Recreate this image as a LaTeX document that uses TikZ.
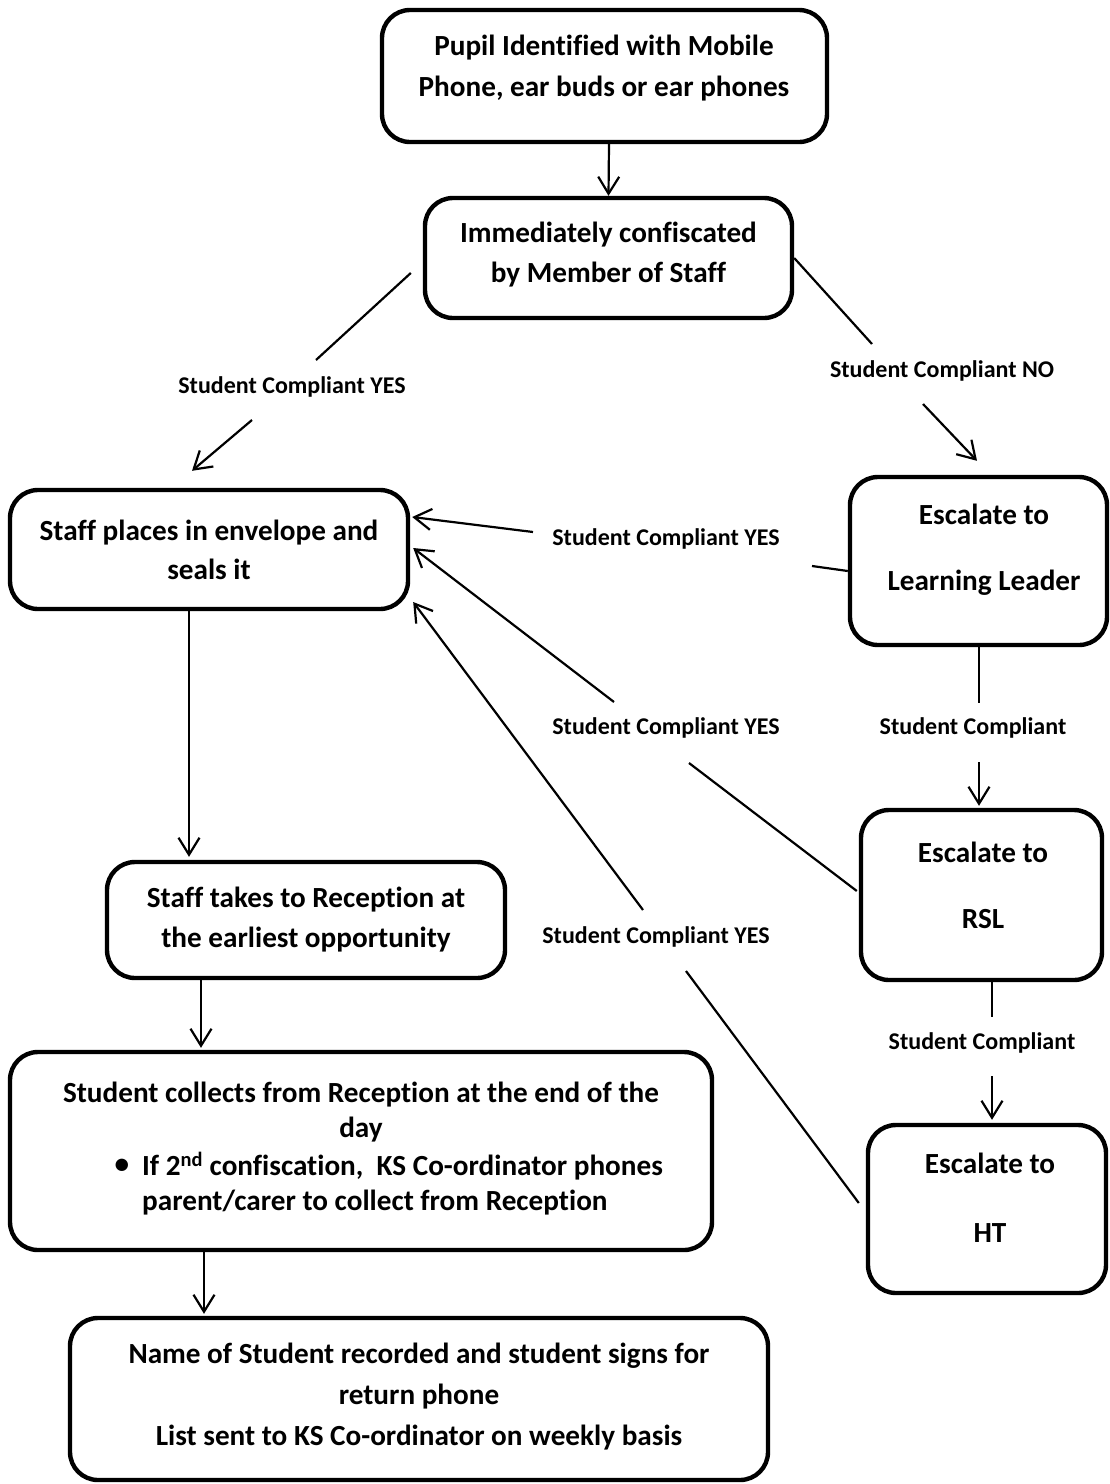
\documentclass[tikz,border=0pt]{standalone}
\usepackage{fontspec}
\setmainfont{Carlito}[Ligatures=NoCommon]
\usetikzlibrary{arrows.meta}
\begin{document}
\begin{tikzpicture}[x=1pt,y=-1pt,
  box/.style={draw, line width=4.4pt, rounded corners=28pt, inner sep=0pt},
  txt/.style={font=\fontsize{29.2}{#1}\selectfont\bfseries, align=center, inner sep=0pt},
  txt/.default=40,
  lab/.style={font=\fontsize{24}{28}\selectfont\bfseries, inner sep=0pt},
  con/.style={line width=2.2pt},
  arr/.style={line width=2.2pt, -{Straight Barb[length=17pt,width=21pt]}}]
\fill[white] (0,0) rectangle (1110,1484);
\useasboundingbox (0,0) rectangle (1110,1484);

% boxes
\node[box, minimum width=445pt, minimum height=132pt] (b1) at (604.5,76) {};
\node[box, minimum width=367pt, minimum height=120pt] (b2) at (608.5,258) {};
\node[box, minimum width=398pt, minimum height=119pt] (b3) at (209,549.5) {};
\node[box, minimum width=398pt, minimum height=116pt] (b4) at (306,920) {};
\node[box, minimum width=702pt, minimum height=198pt] (b5) at (361,1151) {};
\node[box, minimum width=698pt, minimum height=162pt] (b6) at (419,1399) {};
\node[box, minimum width=257pt, minimum height=168pt] (ll) at (978.5,561) {};
\node[box, minimum width=241pt, minimum height=170pt] (rsl) at (981.5,895) {};
\node[box, minimum width=238pt, minimum height=168pt] (ht) at (987,1209) {};

% box texts
\node[txt=41] (t1) at (604,68.5) {Pupil Identified with Mobile\\Phone, ear buds or ear phones};
\node[txt=40] (t2) at (608.5,255) {Immediately confiscated\\by Member of Staff};
\node[txt=39] (t3) at (209,549.5) {Staff places in envelope and\\seals it};
\node[txt=40] (t4) at (306,920) {Staff takes to Reception at\\the earliest opportunity};
\node[txt=35] (t5a) at (361,1112.5) {Student collects from Reception at the end of the\\day};
\node[txt=35, align=left, anchor=west] (t5b) at (142,1183.5) {If 2\textsuperscript{nd} confiscation,\ \ KS Co-ordinator phones\\parent/carer to collect from Reception};
\node[txt] (bul) at (122,1166) {•};
\node[txt=41] (t6) at (419,1397) {Name of Student recorded and student signs for\\return phone\\List sent to KS Co-ordinator on weekly basis};
\node[txt=66] (tll) at (984,550) {Escalate to\\Learning Leader};
\node[txt=66] (trsl) at (983,885) {Escalate to\\RSL};
\node[txt=69] (tht) at (990,1197.5) {Escalate to\\HT};

% labels
\node[lab] (ly) at (292,387) {Student Compliant YES};
\node[lab] (rn) at (942,371) {Student Compliant NO};
\node[lab] (y1) at (666,539) {Student Compliant YES};
\node[lab] (y2) at (666,728) {Student Compliant YES};
\node[lab] (y3) at (656,937) {Student Compliant YES};
\node[lab] (sc1) at (973,728) {Student Compliant};
\node[lab] (sc2) at (982,1043) {Student Compliant};

% gap coordinates
\coordinate (g1a) at (316,360); \coordinate (g1b) at (252,420);
\coordinate (g2a) at (872,344); \coordinate (g2b) at (923,404);
\coordinate (g3a) at (812,566); \coordinate (g3b) at (533,532);
\coordinate (g4a) at (689,763); \coordinate (g4b) at (614,702);
\coordinate (g5a) at (686,971); \coordinate (g5b) at (643,910);
\coordinate (g6a) at (979,703); \coordinate (g6b) at (979,762);
\coordinate (g7a) at (992,1017); \coordinate (g7b) at (992,1076);

% connectors
\draw[arr] ([xshift=4.5pt]b1.south) -- (b2.north);
\draw[con] ([xshift=-12pt,yshift=-15pt]b2.west) -- (g1a);
\draw[arr] (g1b) -- ([xshift=-17pt,yshift=17pt]b3.north);
\draw[con] (b2.east) -- (g2a);
\draw[arr] (g2b) -- ([xshift=-1.5pt,yshift=14pt]ll.north);
\draw[con] ([yshift=-10pt]ll.west) -- (g3a);
\draw[arr] (g3b) -- ([xshift=2pt,yshift=32.5pt]b3.east);
\draw[con] ([xshift=-2pt,yshift=4pt]rsl.west) -- (g4a);
\draw[arr] (g4b) -- ([xshift=3pt,yshift=1.5pt]b3.east);
\draw[con] ([xshift=-7pt,yshift=6pt]ht.west) -- (g5a);
\draw[arr] (g5b) -- ([xshift=3pt,yshift=-52.5pt]b3.east);
\draw[con] ([xshift=0.5pt]ll.south) -- (g6a);
\draw[arr] (g6b) -- ([xshift=-2.5pt,yshift=2pt]rsl.north);
\draw[con] ([xshift=10.5pt]rsl.south) -- (g7a);
\draw[arr] (g7b) -- ([xshift=5pt,yshift=3pt]ht.north);
\draw[arr] ([xshift=-20pt]b3.south) -- ([xshift=-117pt,yshift=3pt]b4.north);
\draw[arr] ([xshift=-105pt]b4.south) -- ([xshift=-160pt,yshift=2pt]b5.north);
\draw[arr] ([xshift=-157pt]b5.south) -- ([xshift=-215pt,yshift=2pt]b6.north);
\end{tikzpicture}
\end{document}
